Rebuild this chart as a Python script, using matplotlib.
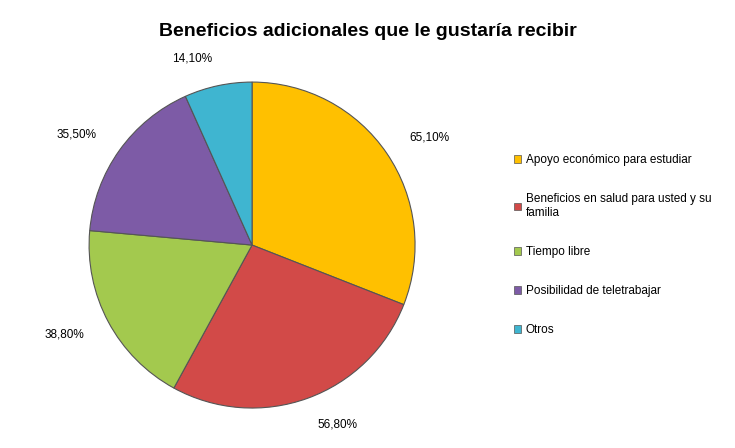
import matplotlib
matplotlib.use("Agg")
import matplotlib.pyplot as plt
from matplotlib.patches import Patch

categories = ["Apoyo económico para estudiar",
              "Beneficios en salud para usted y su\nfamilia",
              "Tiempo libre",
              "Posibilidad de teletrabajar",
              "Otros"]
values = [65.1, 56.8, 38.8, 35.5, 14.1]
labels = ["65,10%", "56,80%", "38,80%", "35,50%", "14,10%"]
colors = ["#FFC000", "#D24A48", "#A3C94E", "#7D5BA6", "#3FB5D0"]

plt.rcParams["font.family"] = "Liberation Sans"
fig = plt.figure(figsize=(7.35, 4.48), dpi=100)
ax = fig.add_axes([0.343 - 0.2218, 0.453 - 0.364, 0.4435, 0.728])
wedges, texts = ax.pie(values, labels=labels, colors=colors, startangle=90,
                       counterclock=False, labeldistance=1.17,
                       wedgeprops=dict(edgecolor="#555555", linewidth=0.8),
                       textprops=dict(fontsize=8.5))
ax.set_xlim(-1, 1)
ax.set_ylim(-1, 1)
ax.set_aspect("equal")
fig.text(0.5, 0.93, "Beneficios adicionales que le gustaría recibir",
         ha="center", va="center", fontsize=14, fontweight="bold")
handles = [Patch(facecolor=c, edgecolor="#555555", linewidth=0.5) for c in colors]
fig.legend(handles, categories, loc="upper left", bbox_to_anchor=(0.685, 0.68),
           frameon=False, fontsize=8.5, handlelength=0.6, handleheight=0.6,
           labelspacing=2.3, handletextpad=0.4)
fig.savefig("out.png", dpi=100)
